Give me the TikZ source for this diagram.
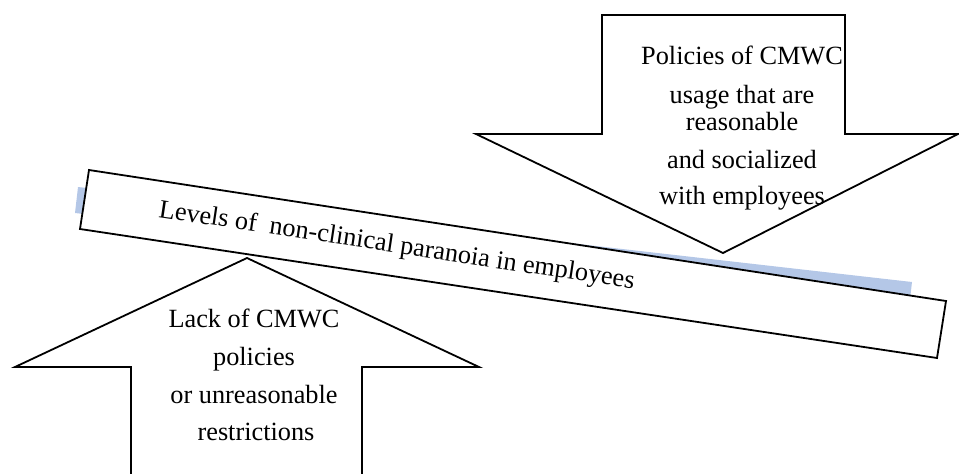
\documentclass[tikz,border=0pt]{standalone}
\usepackage{fontspec}
\setmainfont{Liberation Serif}
\definecolor{shadowblue}{RGB}{180,199,231}
\tikzset{
  outline/.style={draw=black, line width=1.8pt, fill=white, line join=miter},
  lbl/.style={inner sep=0pt, font=\fontsize{26.3}{30}\selectfont, anchor=base},
}
\begin{document}
\begin{tikzpicture}[x=1pt, y=-1pt]
\useasboundingbox (0,0) rectangle (959,474);
\clip (0,0) rectangle (959,474);
% shadow of the bar
\fill[shadowblue] (78,187) -- (912,282) -- (909,308) -- (75,213) -- cycle;
% tilted bar
\coordinate (btl) at (89,170);
\coordinate (btr) at (946,301);
\coordinate (bbr) at (937,358);
\coordinate (bbl) at (80,229);
\draw[outline] (btl) -- (btr) -- (bbr) -- (bbl) -- cycle;
\node[lbl, anchor=base west, rotate=-8.6] (bar) at (158,217) {Levels of\ \ non-clinical paranoia in employees};
% down arrow (top right)
\draw[outline] (602,15) -- (845,15) -- (845,134) -- (958,134) -- (723,253) -- (476,134) -- (602,134) -- cycle;
\node[lbl] (p1) at (742,64) {Policies of CMWC};
\node[lbl] (p2) at (742,103) {usage that are};
\node[lbl] (p3) at (742,130) {reasonable};
\node[lbl] (p4) at (742,168) {and socialized};
\node[lbl] (p5) at (742,204) {with employees};
% up arrow (bottom left)
\draw[outline] (131,490) -- (131,367) -- (15,367) -- (247,258) -- (479,367) -- (362,367) -- (362,490);
\node[lbl] (l1) at (254,327) {Lack of CMWC};
\node[lbl] (l2) at (254,365) {policies};
\node[lbl] (l3) at (254,403) {or unreasonable};
\node[lbl] (l4) at (256,440) {restrictions};
\end{tikzpicture}
\end{document}
